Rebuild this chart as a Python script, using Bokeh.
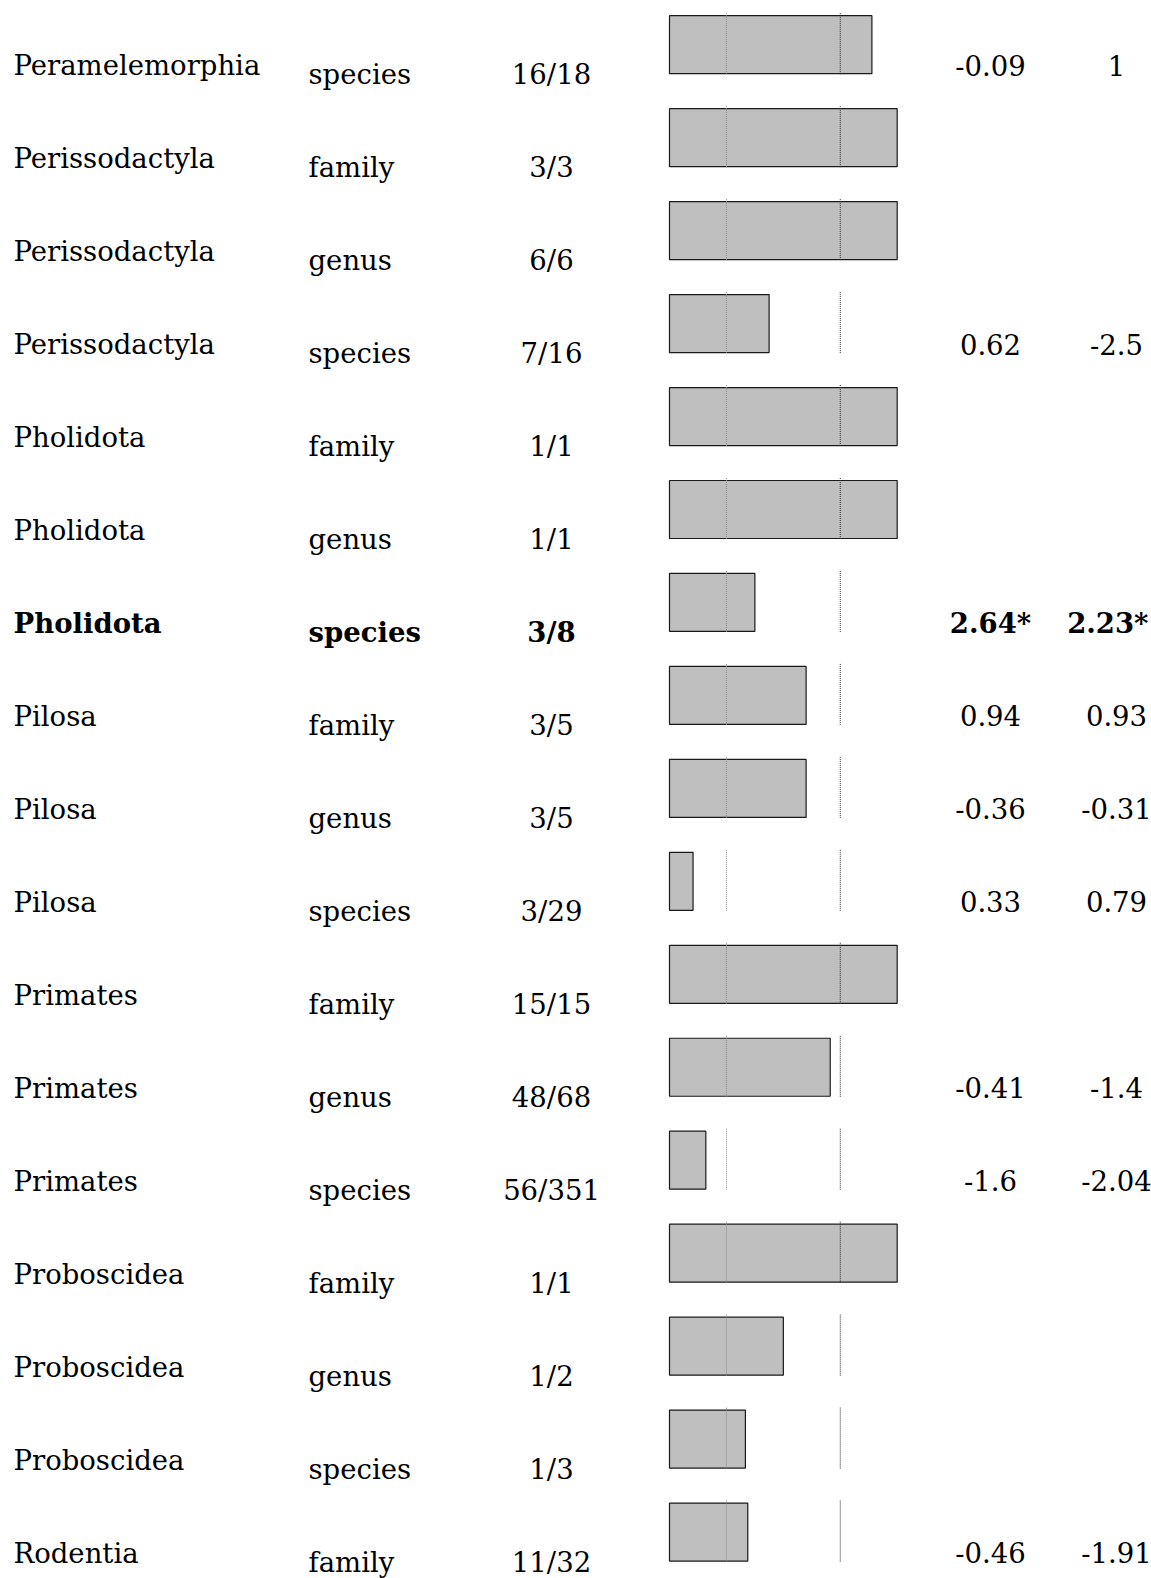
import math

from bokeh.core.properties import value
from bokeh.embed import file_html
from bokeh.models import ColumnDataSource, Range1d
from bokeh.plotting import figure
from bokeh.resources import INLINE

# ---- data -------------------------------------------------------------
orders = ["Peramelemorphia", "Perissodactyla", "Perissodactyla", "Perissodactyla",
          "Pholidota", "Pholidota", "Pholidota", "Pilosa", "Pilosa", "Pilosa",
          "Primates", "Primates", "Primates", "Proboscidea", "Proboscidea",
          "Proboscidea", "Rodentia"]
levels = ["species", "family", "genus", "species", "family", "genus", "species",
          "family", "genus", "species", "family", "genus", "species", "family",
          "genus", "species", "family"]
present = [16, 3, 6, 7, 1, 1, 3, 3, 3, 3, 15, 48, 56, 1, 1, 1, 11]
total = [18, 3, 6, 16, 1, 1, 8, 5, 5, 29, 15, 68, 351, 1, 2, 3, 32]
nan = float("nan")
stat_a = [-0.09, nan, nan, 0.62, nan, nan, 2.64, 0.94, -0.36, 0.33, nan, -0.41,
          -1.6, nan, nan, nan, -0.46]
stat_b = [1, nan, nan, -2.5, nan, nan, 2.23, 0.93, -0.31, 0.79, nan, -1.4,
          -2.04, nan, nan, nan, -1.91]
significant = [False, False, False, False, False, False, True, False, False,
               False, False, False, False, False, False, False, False]
reference_marks = [0.25, 0.75]

# ---- layout -----------------------------------------------------------
W, H = 1151, 1578
ROW_PX = 92.96          # vertical pitch of a row
FIRST_ROW_PX = 44.2     # centre of the first row from the top
BAR_X0, BAR_W = 669.0, 227.7
BAR_H_PX = 58.0

n = len(orders)
rows = list(range(n))
frac = [a / b for a, b in zip(present, total)]


def fmt(v, star):
    if isinstance(v, float) and math.isnan(v):
        return ""
    return f"{v:g}" + ("*" if star else "")


y_top = -FIRST_ROW_PX / ROW_PX
y_bot = (H - FIRST_ROW_PX) / ROW_PX

p = figure(width=W, height=H, output_backend="svg", toolbar_location=None,
           x_axis_type=None, y_axis_type=None,
           x_range=Range1d(0, W), y_range=Range1d(y_bot, y_top),
           min_border=0, outline_line_color=None,
           background_fill_color="white", border_fill_color="white")
p.xgrid.visible = False
p.ygrid.visible = False

# bars live on their own 0..1 share scale
p.extra_x_ranges = {"share": Range1d(-BAR_X0 / BAR_W, (W - BAR_X0) / BAR_W)}

bar_h = BAR_H_PX / ROW_PX
bars = ColumnDataSource(dict(y=rows, right=frac))
p.hbar(y="y", left=0, right="right", height=bar_h, source=bars,
       x_range_name="share", fill_color="#bfbfbf", line_color="#1a1a1a",
       line_width=1.2)

# dotted reference marks per row
seg_colors = ["#8a8a8a", "#2a2a2a"]
for mark, col in zip(reference_marks, seg_colors):
    p.segment(x0=[mark] * n, x1=[mark] * n,
              y0=[r - bar_h / 2 - 2.5 / ROW_PX for r in rows],
              y1=[r + bar_h / 2 + 1.5 / ROW_PX for r in rows],
              x_range_name="share", line_color=col, line_width=1,
              line_dash="1 1")

# ---- text columns -----------------------------------------------------
FONT = value("DejaVu Serif")
SIZE = "27.5px"
upper = 20.5 / ROW_PX   # baseline of order names and statistics
lower = 29.5 / ROW_PX   # baseline of level and fraction columns

fractions = [f"{a}/{b}" for a, b in zip(present, total)]
col_a = [fmt(v, s) for v, s in zip(stat_a, significant)]
col_b = [fmt(v, s) for v, s in zip(stat_b, significant)]

# (texts, x for normal rows, align, x for bold rows, align for bold rows, dy)
columns = [
    (orders, 13, "left", 13, "left", upper),
    (levels, 308, "left", 308, "left", lower),
    (fractions, 551, "center", 551, "center", lower),
    (col_a, 990, "center", 990, "center", upper),
    (col_b, 1116, "center", 1148, "right", upper),
]

for texts, x, align, xb, alignb, dy in columns:
    for style in ("normal", "bold"):
        is_bold = style == "bold"
        idx = [i for i in rows if significant[i] == is_bold]
        if not idx:
            continue
        src = ColumnDataSource(dict(
            x=[xb if is_bold else x] * len(idx),
            y=[i + dy for i in idx],
            t=[texts[i] for i in idx],
        ))
        p.text(x="x", y="y", text="t", source=src, text_font=FONT,
               text_font_size=SIZE, text_font_style=style,
               text_align=alignb if is_bold else align,
               text_baseline="alphabetic", text_color="black")

open("out.html", "w").write(file_html(p, INLINE))
